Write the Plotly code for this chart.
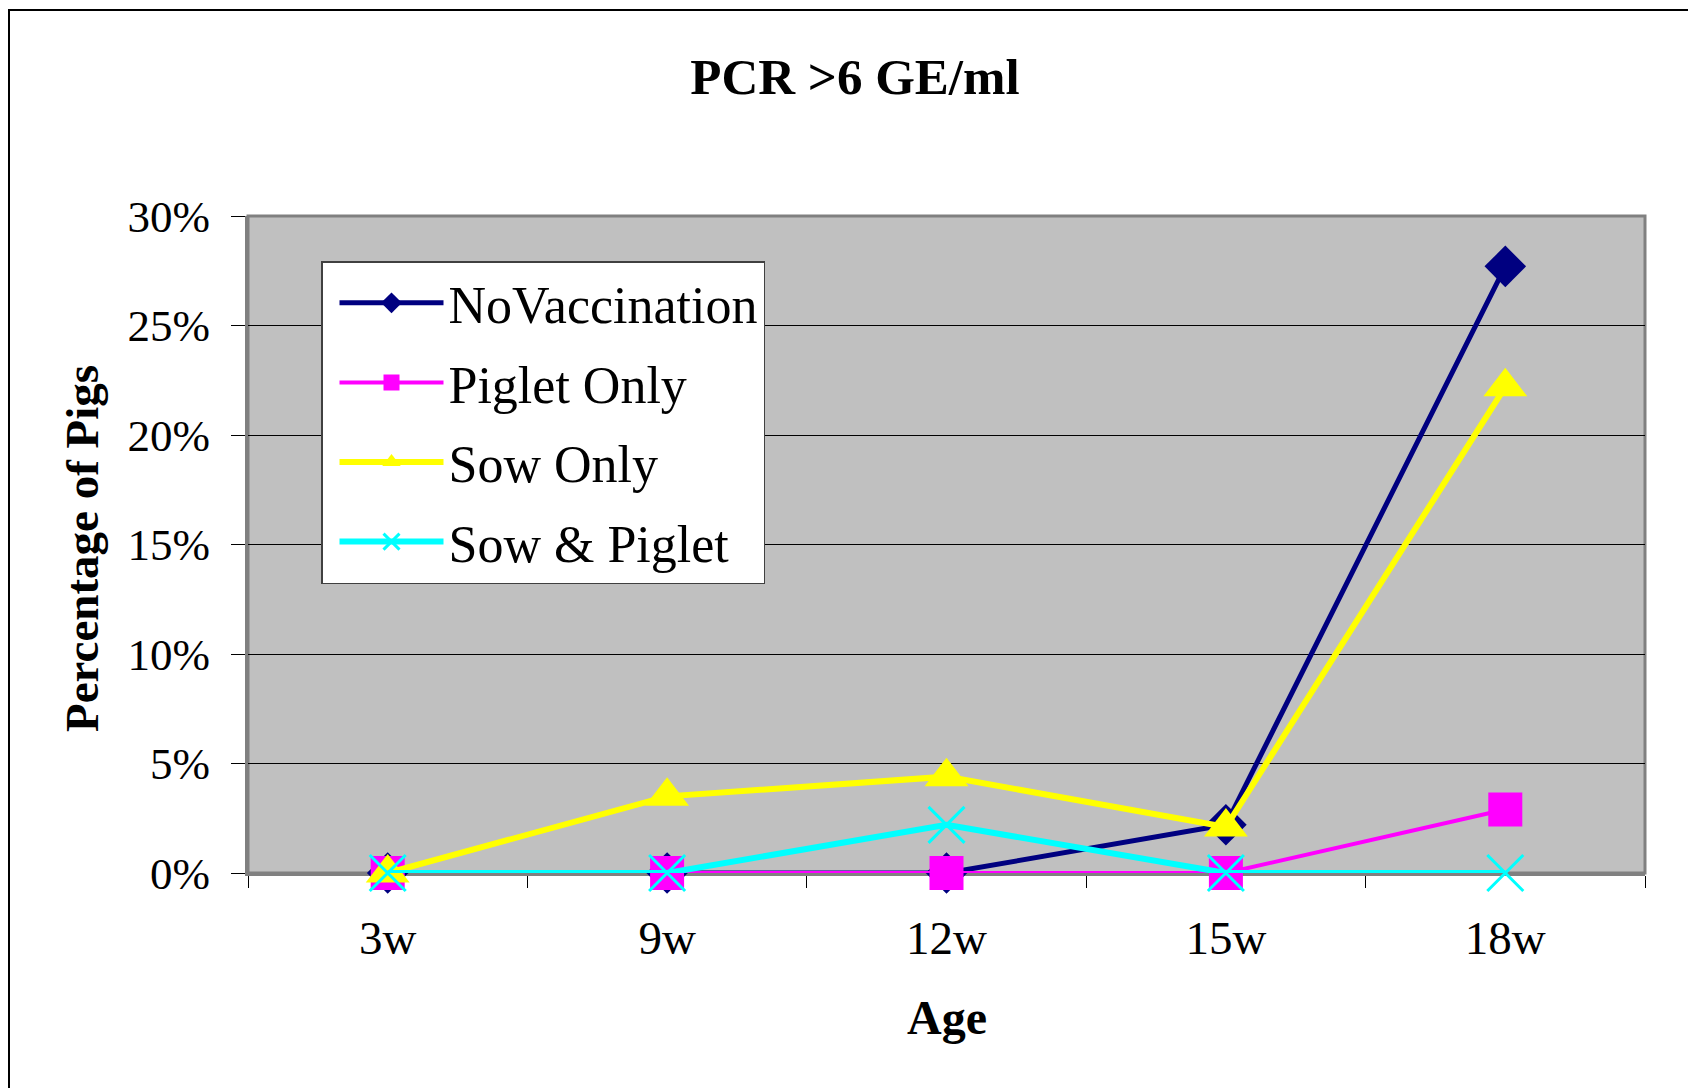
import plotly.graph_objects as go

ages = ["3w", "9w", "12w", "15w", "18w"]
no_vacc = [0.0, 0.0, 0.0, 0.022, 0.277]
piglet_only = [0.0, 0.0, 0.0, 0.0, 0.029]
sow_only = [0.0, 0.035, 0.044, 0.021, 0.222]
sow_piglet = [0.0, 0.0, 0.022, 0.0, 0.0]
y_ticks = [0, 0.05, 0.10, 0.15, 0.20, 0.25, 0.30]

FONT = "Liberation Serif, Times New Roman, serif"
OFF = 8  # page body margin

# plot area in page pixels
PL, PR, PT, PB = 248, 1645, 216, 873
PW, PH = PR - PL, PB - PT

fig = go.Figure()
fig.add_trace(go.Scatter(x=ages, y=no_vacc, name="NoVaccination", mode="lines+markers",
                         legendgroup="a", cliponaxis=False,
                         line=dict(color="#000080", width=5),
                         marker=dict(symbol="diamond", size=32, color="#000080")))
fig.add_trace(go.Scatter(x=ages, y=piglet_only, name="Piglet Only", mode="lines+markers",
                         legendgroup="b", cliponaxis=False,
                         line=dict(color="#FF00FF", width=4),
                         marker=dict(symbol="square", size=34, color="#FF00FF")))
fig.add_trace(go.Scatter(x=ages, y=sow_only, name="Sow Only", mode="lines+markers",
                         legendgroup="c", cliponaxis=False,
                         line=dict(color="#FFFF00", width=6),
                         marker=dict(symbol="triangle-up", size=38, color="#FFFF00")))
fig.add_trace(go.Scatter(x=ages, y=sow_piglet, name="Sow & Piglet", mode="lines+markers",
                         legendgroup="d", cliponaxis=False,
                         line=dict(color="#00FFFF", width=6),
                         marker=dict(symbol="x-thin-open", size=36, color="#00FFFF",
                                     line=dict(color="#00FFFF", width=3))))

fig.update_layout(
    width=1696, height=1088,
    margin=dict(l=PL - OFF, r=1696 - (PR - OFF), t=PT - OFF, b=1088 - (PB - OFF)),
    paper_bgcolor="white",
    plot_bgcolor="#C0C0C0",
    font=dict(family=FONT, color="black", size=44),
    title=dict(text="<b>PCR >6 GE/ml</b>", xref="container", x=(855 - OFF) / 1696,
               xanchor="center",
               y=1 - (76 - OFF) / 1088, yref="container", yanchor="middle",
               font=dict(family=FONT, size=51, color="black")),
    showlegend=True,
    legend=dict(x=(321 - PL) / PW, y=(PB - 261) / PH, xanchor="left", yanchor="top",
                bgcolor="white", bordercolor="#404040", borderwidth=1.5,
                font=dict(family=FONT, size=52, color="black"),
                tracegroupgap=9, itemwidth=104, traceorder="grouped",
                indentation=12),
)

fig.update_xaxes(
    type="category", range=[-0.5, 4.5],
    showgrid=False, zeroline=False,
    showline=True, linecolor="#808080", linewidth=3,
    ticks="outside", tickson="boundaries", ticklen=12, tickcolor="black", tickwidth=1,
    tickfont=dict(family=FONT, size=47, color="black"),
    ticklabelstandoff=22, layer="below traces",
)
fig.update_yaxes(
    range=[0, 0.30], tickvals=y_ticks, tickformat=".0%",
    showgrid=True, gridcolor="black", gridwidth=1,
    zeroline=False,
    showline=True, linecolor="#808080", linewidth=3,
    ticks="outside", ticklen=14, tickcolor="black", tickwidth=1,
    tickfont=dict(family=FONT, size=45, color="black"),
    ticklabelstandoff=12, layer="below traces",
)

# plot area border
fig.add_shape(type="rect", xref="paper", yref="paper", x0=0, y0=0, x1=1, y1=1,
              line=dict(color="#808080", width=3), layer="below")
# outer chart frame
fig.add_shape(type="rect", xref="paper", yref="paper",
              x0=(9 - PL) / PW, x1=(1694 - PL) / PW,
              y0=(PB - 1110) / PH, y1=(PB - 10) / PH,
              line=dict(color="black", width=2), layer="below")

fig.add_annotation(text="<b>Age</b>", xref="paper", yref="paper", x=0.5,
                   y=(PB - 1017) / PH, xanchor="center", yanchor="middle",
                   showarrow=False, font=dict(family=FONT, size=48, color="black"))
fig.add_annotation(text="<b>Percentage of Pigs</b>", xref="paper", yref="paper",
                   x=(82 - PL) / PW, y=(PB - 549) / PH, textangle=-90,
                   xanchor="center", yanchor="middle",
                   showarrow=False, font=dict(family=FONT, size=47, color="black"))

fig.write_html("out.html")
